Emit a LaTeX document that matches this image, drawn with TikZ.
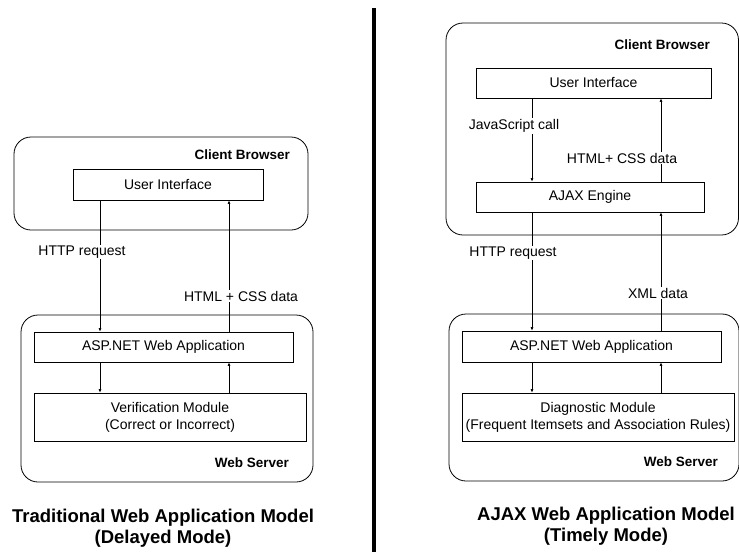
\documentclass[tikz,border=0pt]{standalone}
\usepackage{fontspec}
\setmainfont{Liberation Sans}
\usetikzlibrary{arrows.meta}
\begin{document}
\begin{tikzpicture}[x=1pt,y=-1pt,
  group/.style={draw,rounded corners=17pt,line width=0.8pt,inner sep=0pt},
  box/.style={draw,line width=0.8pt,inner sep=0pt,align=center,font=\fontsize{14}{17}\selectfont},
  lbl/.style={font=\fontsize{14}{16}\selectfont,fill=white,inner sep=1pt},
  grp/.style={font=\bfseries\fontsize{13.5}{16}\selectfont,anchor=east,inner sep=0pt},
  ttl/.style={font=\bfseries\fontsize{18.5}{21}\selectfont,align=center},
  arr/.style={-{Latex[length=3.5pt,width=3pt]},line width=0.6pt}]
\useasboundingbox (0,0) rectangle (739,552);
\clip (0,0) rectangle (739,552);
% ---------- left model ----------
\node[group,minimum width=294,minimum height=93] (CB1) at (161,183.5) {};
\node[group,minimum width=292,minimum height=167] (WS1) at (167,398.5) {};
\node[box,minimum width=190,minimum height=31] (UI1) at (168,184.5) {User Interface};
\node[box,minimum width=259,minimum height=30] (ASP1) at (163.5,347) {ASP.NET Web Application};
\node[box,minimum width=272,minimum height=48] (VM1) at (170,417) {Verification Module\\(Correct or Incorrect)};
\node[grp] (CBL1) at (290,155) {Client Browser};
\node[grp] (WSL1) at (289,463) {Web Server};
\coordinate (xl1) at (100,0);
\coordinate (xr1) at (229,0);
\draw[arr] (UI1.south -| xl1) -- (ASP1.north -| xl1);
\draw[arr] (ASP1.north -| xr1) -- (UI1.south -| xr1);
\draw[arr] (ASP1.south -| xl1) -- (VM1.north -| xl1);
\draw[arr] (VM1.north -| xr1) -- (ASP1.south -| xr1);
\node[lbl] (L1) at (82,252) {HTTP request};
\node[lbl] (L2) at (241,296) {HTML + CSS data};
\node[ttl] (T1) at (163,528) {Traditional Web Application Model\\(Delayed Mode)};
% ---------- divider ----------
\coordinate (d1) at (374,8);
\coordinate (d2) at (374,552);
\draw[line width=4.5pt] (d1) -- (d2);
% ---------- right model ----------
\node[group,minimum width=292.5,minimum height=212] (CB2) at (592.25,129) {};
\node[group,minimum width=290,minimum height=167] (WS2) at (594,397.5) {};
\node[box,minimum width=235,minimum height=30] (UI2) at (593.5,83) {User Interface};
\node[box,minimum width=228,minimum height=30] (AJ2) at (590,197) {AJAX Engine};
\node[box,minimum width=259,minimum height=31] (ASP2) at (591.5,346.5) {ASP.NET Web Application};
\node[box,minimum width=272,minimum height=48] (DM2) at (598,417) {Diagnostic Module\\(Frequent Itemsets and Association Rules)};
\node[grp] (CBL2) at (710,45) {Client Browser};
\node[grp] (WSL2) at (718,462) {Web Server};
\coordinate (xl2) at (532,0);
\coordinate (xr2) at (661,0);
\draw[arr] (UI2.south -| xl2) -- (AJ2.north -| xl2);
\draw[arr] (AJ2.north -| xr2) -- (UI2.south -| xr2);
\draw[arr] (AJ2.south -| xl2) -- (ASP2.north -| xl2);
\draw[arr] (ASP2.north -| xr2) -- (AJ2.south -| xr2);
\draw[arr] (ASP2.south -| xl2) -- (DM2.north -| xl2);
\draw[arr] (DM2.north -| xr2) -- (ASP2.south -| xr2);
\node[lbl] (L3) at (514,126) {JavaScript call};
\node[lbl] (L4) at (622,158) {HTML+ CSS data};
\node[lbl] (L5) at (513,253) {HTTP request};
\node[lbl] (L6) at (658,293) {XML data};
\node[ttl] (T2) at (606,526) {AJAX Web Application Model\\(Timely Mode)};
\end{tikzpicture}
\end{document}
